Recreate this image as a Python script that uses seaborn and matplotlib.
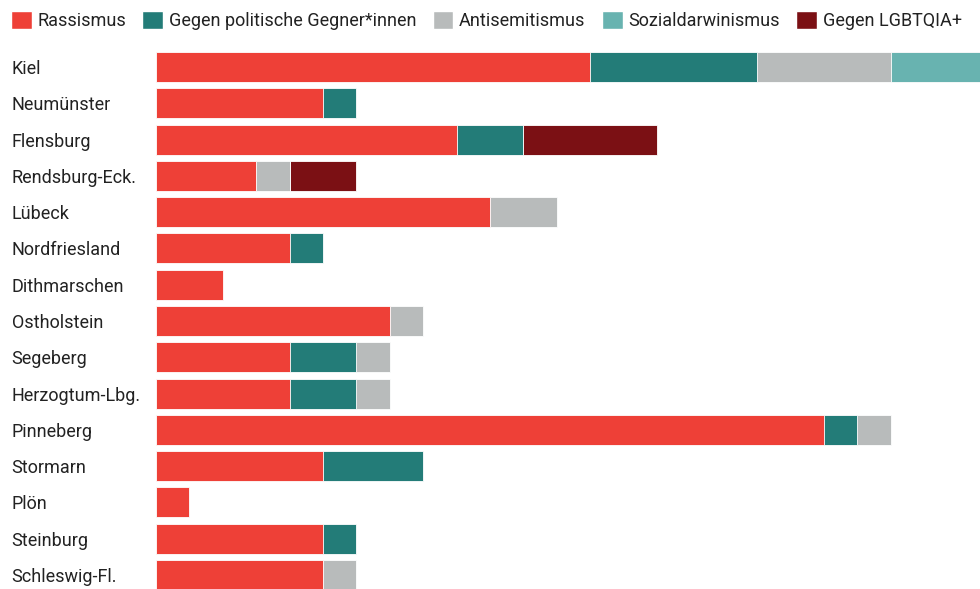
import numpy as np
import pandas as pd
import matplotlib.pyplot as plt
import seaborn as sns
from matplotlib.patches import Patch

# data
districts = ["Kiel", "Neumünster", "Flensburg", "Rendsburg-Eck.", "Lübeck",
             "Nordfriesland", "Dithmarschen", "Ostholstein", "Segeberg",
             "Herzogtum-Lbg.", "Pinneberg", "Stormarn", "Plön", "Steinburg",
             "Schleswig-Fl."]
categories = ["Rassismus", "Gegen politische Gegner*innen", "Antisemitismus",
              "Sozialdarwinismus", "Gegen LGBTQIA+"]
rassismus = [13, 5, 9, 3, 10, 4, 2, 7, 4, 4, 20, 5, 1, 5, 5]
gegner = [5, 1, 2, 0, 0, 1, 0, 0, 2, 2, 1, 3, 0, 1, 0]
antisemitismus = [4, 0, 0, 1, 2, 0, 0, 1, 1, 1, 1, 0, 0, 0, 1]
sozialdarwinismus = [3, 0, 0, 0, 0, 0, 0, 0, 0, 0, 0, 0, 0, 0, 0]
lgbtqia = [0, 0, 4, 2, 0, 0, 0, 0, 0, 0, 0, 0, 0, 0, 0]
colors = ["#EE4037", "#237C78", "#B8BBBB", "#68B3B0", "#7B1014"]

df = pd.DataFrame({"Kreis": districts, categories[0]: rassismus,
                   categories[1]: gegner, categories[2]: antisemitismus,
                   categories[3]: sozialdarwinismus, categories[4]: lgbtqia})
cum = df[categories].cumsum(axis=1)
cum["Kreis"] = df["Kreis"]

sns.set_theme(style="white")
plt.rcParams['font.family'] = ['Roboto', 'DejaVu Sans']

fig = plt.figure(figsize=(9.8, 5.89), dpi=100)
ax = fig.add_axes([156 / 980, 0, 1 - 156 / 980, (589 - 48.85) / 589])

# stacked bars: draw cumulative totals from the last category backwards
for cat, col in reversed(list(zip(categories, colors))):
    sns.barplot(data=cum, x=cat, y="Kreis", color=col, orient="h",
                width=0.83, edgecolor="white", linewidth=0.6, ax=ax,
                saturation=1)

ax.set_xlim(0, 24.67)
ax.set_ylim(14.386, -0.5)
ax.set_xlabel("")
ax.set_ylabel("")
ax.set_xticks([])
sns.despine(ax=ax, left=True, bottom=True)
ax.tick_params(axis="y", length=0, pad=104, labelsize=13, labelcolor="#222222")
for lab in ax.get_yticklabels():
    lab.set_horizontalalignment("left")

handles = [Patch(facecolor=c, edgecolor="white") for c in colors]
fig.legend(handles, categories, loc="upper left", bbox_to_anchor=(0.0, 0.999),
           ncol=5, frameon=False, fontsize=13, handlelength=1.15,
           handleheight=1.15, handletextpad=0.32, columnspacing=0.9,
           borderaxespad=0.2, labelcolor="#222222")

fig.savefig("out.png", dpi=100)
